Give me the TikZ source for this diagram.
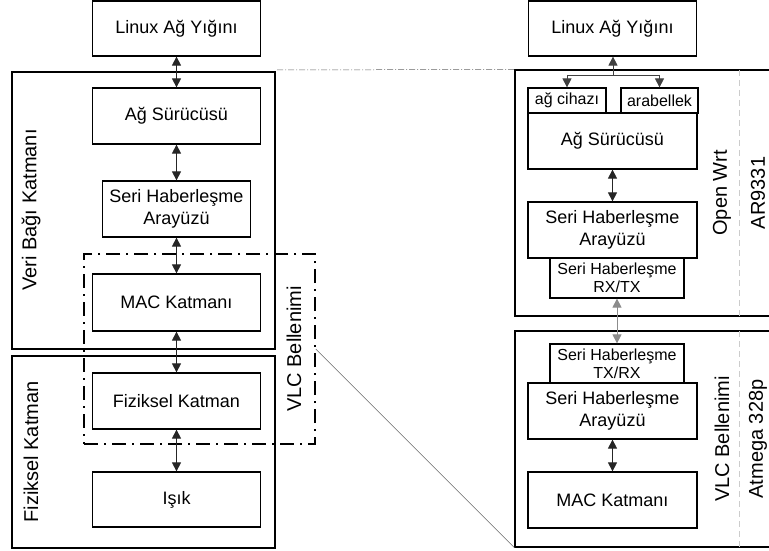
\documentclass[tikz,border=0pt]{standalone}
\usepackage{fontspec}
\setmainfont{Liberation Sans}
\usetikzlibrary{arrows.meta}
\begin{document}
\begin{tikzpicture}[x=1pt,y=-1pt,
  box/.style={draw, line width=1.2pt, inner sep=0pt, align=center, fill=white, font=\fontsize{18}{21.6}\selectfont},
  sbox/.style={box, font=\fontsize{16}{18}\selectfont},
  outerbox/.style={draw, line width=1.2pt, inner sep=0pt},
  lab/.style={rotate=90, inner sep=0pt, font=\fontsize{20}{24}\selectfont},
  tip/.tip={Triangle[length=9pt,width=9pt]},
  conn/.style={line width=0.8pt, black!85, tip-tip},
  oneway/.style={line width=0.8pt, black!75, -tip},
  zoomline/.style={line width=0.5pt, black!60},
  sep/.style={line width=0.6pt, black!20, dash pattern=on 6pt off 4pt}
]
\useasboundingbox (0,0) rectangle (769,551);

% ---------- left column ----------
\node[outerbox, minimum width=263pt, minimum height=277pt] (vbk) at (143.5,210.5) {};
\node[outerbox, minimum width=263pt, minimum height=192pt] (fk) at (143.5,452) {};
\node[lab] (vbkl) at (31,210) {Veri Bağı Katmanı};
\node[lab] (fkl) at (31,452) {Fiziksel Katman};

\node[box, minimum width=168pt, minimum height=55pt] (L1) at (176.5,28.5) {Linux Ağ Yığını};
\node[box, minimum width=168pt, minimum height=56pt] (A1) at (176.5,116) {Ağ Sürücüsü};
\node[box, minimum width=148pt, minimum height=56pt] (S1) at (176.5,209) {Seri Haberleşme\\Arayüzü};
\node[box, minimum width=168pt, minimum height=57pt] (M1) at (176.5,302.5) {MAC Katmanı};
\node[box, minimum width=168pt, minimum height=56pt] (F1) at (176.5,401) {Fiziksel Katman};
\node[box, minimum width=168pt, minimum height=55pt] (I1) at (176.5,499.5) {Işık};

\node[draw, line width=1.6pt, dash pattern=on 14pt off 6pt on 2pt off 6pt, inner sep=0pt,
      minimum width=231pt, minimum height=190pt] (dd) at (199.5,349) {};
\node[lab] (ddl) at (294,349) {VLC Bellenimi};

\draw[conn] (L1.south) -- (A1.north);
\draw[conn] (A1.south) -- (S1.north);
\draw[conn] (S1.south) -- (M1.north);
\draw[conn] (M1.south) -- (F1.north);
\draw[conn] (F1.south) -- (I1.north);

% ---------- right column ----------
\node[outerbox, minimum width=265pt, minimum height=246pt] (ow) at (647.5,193) {};
\node[outerbox, minimum width=265pt, minimum height=216pt] (vb) at (647.5,439) {};
\draw[sep] (739,70) -- (739,316);
\draw[sep] (739,331) -- (739,547);
\node[lab] (owl) at (722,193) {Open Wrt};
\node[lab] (arl) at (758,193) {AR9331};
\node[lab] (vbl) at (722,439) {VLC Bellenimi};
\node[lab] (atl) at (758,439) {Atmega 328p};

\node[box, minimum width=168pt, minimum height=55pt] (L2) at (612.5,28.5) {Linux Ağ Yığını};
\node[sbox, minimum width=78pt, minimum height=25pt] (agc) at (567,100.5) {ağ cihazı};
\node[sbox, minimum width=77pt, minimum height=25pt] (arb) at (659.5,100.5) {arabellek};
\node[box, minimum width=169pt, minimum height=56pt] (A2) at (612.5,141) {Ağ Sürücüsü};
\node[box, minimum width=169pt, minimum height=56pt] (S2) at (612.5,230) {Seri Haberleşme\\Arayüzü};
\node[sbox, minimum width=134pt, minimum height=40pt] (RT) at (617,278) {Seri Haberleşme\\RX/TX};
\node[sbox, minimum width=134pt, minimum height=39pt] (TR) at (617,363.5) {Seri Haberleşme\\TX/RX};
\node[box, minimum width=169pt, minimum height=56pt] (S3) at (612.5,411) {Seri Haberleşme\\Arayüzü};
\node[box, minimum width=169pt, minimum height=56pt] (M2) at (612.5,500) {MAC Katmanı};

\coordinate (br) at (613,75);
\draw[oneway] (br) -- (br |- L2.south);
\draw[line width=0.8pt, black!75] (agc.north |- br) -- (arb.north |- br);
\draw[oneway] (agc.north |- br) -- (agc.north);
\draw[oneway] (arb.north |- br) -- (arb.north);
\draw[conn] (A2.south) -- (S2.north);
\draw[conn, black!45] (RT.south) -- (TR.north);
\draw[conn] (S3.south) -- (M2.north);

% ---------- zoom lines ----------
\coordinate (zs) at (277,70);
\draw[zoomline, dash pattern=on 6pt off 2pt on 1pt off 2pt] (zs) -- (ow.north west);
\draw[zoomline] (dd.east) -- (vb.south west);
\end{tikzpicture}
\end{document}
